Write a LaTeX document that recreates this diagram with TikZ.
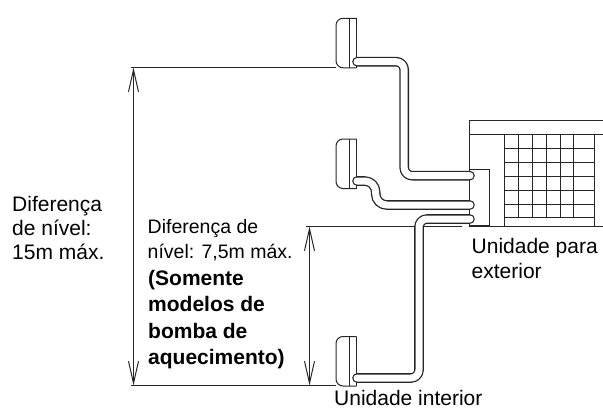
\documentclass[tikz,border=0pt]{standalone}
\usepackage{fontspec}
\setmainfont{Liberation Sans}
\usetikzlibrary{arrows.meta}
\definecolor{ink}{gray}{0.15}
\tikzset{
  x=1pt,y=-1pt,
  thinline/.style={draw=ink,line width=1pt},
  pipe/.style={draw=ink,line width=1.3pt,double=white,double distance=7pt,line cap=round,line join=round},
  dim/.style={draw=ink,line width=1pt,{Straight Barb[length=22pt,width=10pt]}-{Straight Barb[length=22pt,width=10pt]}},
  plain/.style={anchor=base west,inner sep=0pt,font=\fontsize{21}{24}\selectfont,text=black},
  midlabel/.style={anchor=base west,inner sep=0pt,font=\fontsize{19.5}{24}\selectfont,text=black},
  boldlabel/.style={anchor=base west,inner sep=0pt,font=\fontsize{21}{24}\selectfont\bfseries,text=black},
  indoor/.pic={
    \draw[thinline,rounded corners=7pt] (20.7,0) -- (0,0) -- (0,49.5) -- (20.7,49.5);
    \draw[thinline] (20.7,0) -- (20.7,49.5);
    \draw[thinline] (13.3,0) -- (13.3,49.5);
  }
}
\begin{document}
\begin{tikzpicture}
\useasboundingbox (0,0) rectangle (603,410);
% reference lines
\coordinate (bigtop) at (133.5,67.5);
\coordinate (bigbot) at (133.5,385.5);
\coordinate (smalltop) at (309.5,226.5);
\coordinate (smallbot) at (309.5,385.5);
\draw[thinline] (131,67.5) -- (336,67.5);
\draw[thinline] (131,385.5) -- (336,385.5);
\draw[thinline] (306,226.5) -- (462,226.5);
\draw[dim] (bigtop) -- (bigbot);
\draw[dim] (smalltop) -- (smallbot);
% outdoor unit
\draw[thinline] (603,120) -- (469.3,120) -- (469.3,226) -- (603,226);
\draw[thinline] (469.3,134.3) -- (603,134.3);
\draw[thinline] (469.3,169) -- (489.3,169) -- (489.3,226);
\draw[draw=ink,line width=1.8pt] (469.3,226) -- (489.3,226);
\foreach \gx in {504,594} \draw[thinline] (\gx,134.3) -- (\gx,226);
\foreach \gx in {518,532,546,560,573.7} \draw[thinline] (\gx,134.3) -- (\gx,217.5);
\foreach \gy in {148.3,162.3,176,190,204,217.5} \draw[thinline] (504,\gy) -- (594,\gy);
% indoor units
\pic at (336,18.3) {indoor};
\pic at (336,139) {indoor};
\pic at (336,336.5) {indoor};
% pipes
\draw[pipe,rounded corners=8pt] (357,61.7) -- (404.2,61.7) -- (404.2,175.7) -- (470,175.7);
\draw[pipe,rounded corners=11pt] (357,181) -- (375.7,181) -- (375.7,205) -- (470,205);
\draw[pipe,rounded corners=8pt] (470,219) -- (419,219) -- (419,378) -- (357,378);
% texts
\node[plain] (a1) at (12,211) {Diferença};
\node[plain] (a2) at (12,235) {de nível:};
\node[plain] (a3) at (12,259) {15m máx.};
\node[midlabel] (b1) at (147.5,233) {Diferença de};
\node[midlabel] (b2) at (147.5,258) {nível: 7,5m máx.};
\node[boldlabel] (c1) at (148,285) {(Somente};
\node[boldlabel] (c2) at (148,311) {modelos de};
\node[boldlabel] (c3) at (148,338) {bomba de};
\node[boldlabel] (c4) at (148,364) {aquecimento)};
\node[plain] (d1) at (471.5,253) {Unidade para};
\node[plain] (d2) at (471.5,278) {exterior};
\node[plain] (e1) at (334,405.5) {Unidade interior};
\end{tikzpicture}
\end{document}
